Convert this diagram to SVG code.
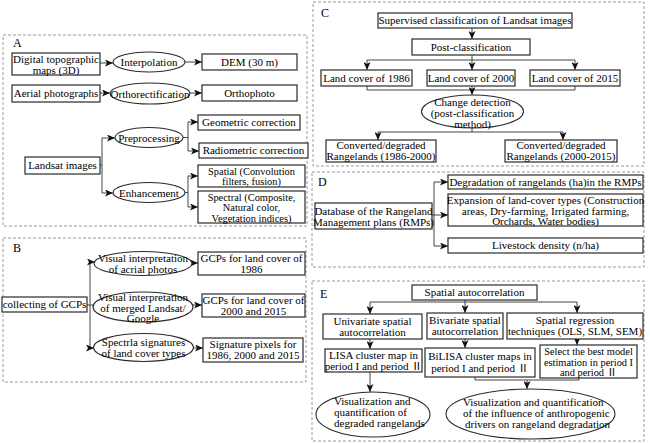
<svg xmlns="http://www.w3.org/2000/svg" width="650" height="443" viewBox="0 0 650 443">
<defs>
<marker id="ah" markerWidth="8" markerHeight="7" refX="8" refY="3.5" orient="auto" markerUnits="userSpaceOnUse">
<path d="M0,0 L8,3.5 L0,7 L2,3.5 z" fill="#111"/>
</marker>
<style>
.panel{fill:none;stroke:#9a9a9a;stroke-width:1;stroke-dasharray:3 2}
.box{fill:#fff;stroke:#2a2a2a;stroke-width:1.2}
.ell{fill:#fff;stroke:#2a2a2a;stroke-width:1.1}
text{font-family:"Liberation Serif","Noto Sans CJK SC",serif;font-size:11px;fill:#000}
.c{text-anchor:middle}
.s{font-size:10.4px}
.lbl{font-size:12px}
.ln{fill:none;stroke:#444;stroke-width:1}
.ar{fill:none;stroke:#444;stroke-width:1;marker-end:url(#ah)}
</style>
</defs>
<rect width="650" height="443" fill="#fff"/>

<g id="panels">
<rect class="panel" x="3" y="35" width="304" height="191"/>
<rect class="panel" x="3" y="238" width="303" height="144"/>
<rect class="panel" x="313" y="2" width="331" height="164"/>
<rect class="panel" x="312" y="172" width="332" height="95"/>
<rect class="panel" x="312" y="281" width="332" height="160"/>
<text class="lbl" x="13" y="47">A</text>
<text class="lbl" x="13" y="252">B</text>
<text class="lbl" x="321" y="17">C</text>
<text class="lbl" x="318" y="186">D</text>
<text class="lbl" x="320" y="298">E</text>
</g>

<g id="connectors">
<!-- A -->
<line class="ar" x1="100" y1="63" x2="113" y2="63"/>
<line class="ar" x1="185" y1="62" x2="202" y2="62"/>
<line class="ar" x1="100" y1="93" x2="110" y2="93"/>
<line class="ar" x1="190" y1="93" x2="202" y2="93"/>
<polyline class="ln" points="100,165 102,165"/>
<line class="ln" x1="102" y1="138" x2="102" y2="193"/>
<line class="ar" x1="102" y1="138" x2="115" y2="138"/>
<line class="ar" x1="102" y1="193" x2="113" y2="193"/>
<line class="ln" x1="183" y1="137.5" x2="188" y2="137.5"/>
<line class="ln" x1="188" y1="122" x2="188" y2="151"/>
<line class="ar" x1="188" y1="122" x2="198" y2="122"/>
<line class="ar" x1="188" y1="151" x2="199" y2="151"/>
<line class="ln" x1="185" y1="192.5" x2="188" y2="192.5"/>
<line class="ln" x1="188" y1="176" x2="188" y2="207"/>
<line class="ar" x1="188" y1="176" x2="198" y2="176"/>
<line class="ar" x1="188" y1="207" x2="198" y2="207"/>
<!-- B -->
<line class="ln" x1="87" y1="305" x2="93" y2="305"/>
<line class="ln" x1="90" y1="262" x2="90" y2="348"/>
<line class="ar" x1="90" y1="262" x2="95" y2="262"/>
<line class="ar" x1="90" y1="348" x2="94" y2="348"/>
<line class="ar" x1="192" y1="263" x2="198" y2="263"/>
<line class="ar" x1="193" y1="305" x2="202" y2="305"/>
<line class="ar" x1="193" y1="348" x2="203" y2="348"/>
<!-- C -->
<line class="ar" x1="472" y1="28" x2="472" y2="39"/>
<line class="ln" x1="472" y1="55" x2="472" y2="60"/>
<line class="ln" x1="367" y1="60" x2="575" y2="60"/>
<line class="ar" x1="367" y1="60" x2="367" y2="70"/>
<line class="ar" x1="472" y1="60" x2="472" y2="70"/>
<line class="ar" x1="575" y1="60" x2="575" y2="70"/>
<line class="ln" x1="367" y1="86" x2="367" y2="90"/>
<line class="ln" x1="575" y1="86" x2="575" y2="90"/>
<line class="ln" x1="367" y1="90" x2="575" y2="90"/>
<line class="ar" x1="472" y1="86" x2="472" y2="95"/>
<line class="ln" x1="472" y1="128" x2="472" y2="132"/>
<line class="ln" x1="378" y1="132" x2="563" y2="132"/>
<line class="ar" x1="378" y1="132" x2="378" y2="140"/>
<line class="ar" x1="563" y1="132" x2="563" y2="140"/>
<!-- D -->
<line class="ln" x1="434" y1="182" x2="434" y2="246"/>
<line class="ar" x1="434" y1="182" x2="448" y2="182"/>
<line class="ar" x1="432" y1="215" x2="448" y2="215"/>
<line class="ar" x1="434" y1="246" x2="448" y2="246"/>
<!-- E -->
<line class="ln" x1="370" y1="302" x2="577" y2="302"/>
<line class="ar" x1="370" y1="302" x2="370" y2="314"/>
<line class="ar" x1="465" y1="300" x2="465" y2="313"/>
<line class="ar" x1="577" y1="302" x2="577" y2="313"/>
<line class="ar" x1="370" y1="339" x2="370" y2="349"/>
<line class="ar" x1="465" y1="339" x2="465" y2="348"/>
<line class="ar" x1="577" y1="339" x2="577" y2="345"/>
<line class="ar" x1="370" y1="372" x2="370" y2="392"/>
<line class="ln" x1="475" y1="377" x2="475" y2="380"/>
<line class="ln" x1="579" y1="378" x2="579" y2="380"/>
<line class="ln" x1="475" y1="380" x2="579" y2="380"/>
<line class="ar" x1="527" y1="380" x2="527" y2="389"/>
</g>

<g id="topo"><rect class="box" x="12" y="53" width="88" height="22"/><text class="c" x="56" y="63">Digital topographic</text><text class="c" x="56" y="73.5">maps (3D)</text></g>
<g id="interp"><ellipse class="ell" cx="149" cy="62" rx="36" ry="10"/><text class="c" x="149" y="66">Interpolation</text></g>
<g id="dem"><rect class="box" x="202" y="54" width="95" height="16"/><text class="c" x="249.5" y="66">DEM (30 m)</text></g>
<g id="aerial"><rect class="box" x="12" y="85" width="88" height="17"/><text class="c" x="56" y="97">Aerial photographs</text></g>
<g id="ortho"><ellipse class="ell" cx="150" cy="93.5" rx="40" ry="10.5"/><text class="c" x="150" y="97.5">Orthorectification</text></g>
<g id="orthophoto"><rect class="box" x="202" y="85" width="95" height="16"/><text class="c" x="249.5" y="97">Orthophoto</text></g>
<g id="geom"><rect class="box" x="198" y="115" width="102" height="15"/><text class="c" x="249" y="126">Geometric correction</text></g>
<g id="prep"><ellipse class="ell" cx="149" cy="137.5" rx="34" ry="10"/><text class="c" x="149" y="141.5">Preprocessing</text></g>
<g id="radio"><rect class="box" x="199" y="143" width="109" height="15"/><text class="c" x="253.5" y="154">Radiometric correction</text></g>
<g id="landsat"><rect class="box" x="25" y="157" width="75" height="17"/><text class="c" x="62.5" y="169">Landsat images</text></g>
<g id="enh"><ellipse class="ell" cx="149" cy="192.5" rx="36" ry="10"/><text class="c" x="149" y="196.5">Enhancement</text></g>
<g id="spatial"><rect class="box" x="198" y="165" width="107" height="22"/><text class="c s" x="251.5" y="174.5">Spatial (Convolution</text><text class="c s" x="251.5" y="185">filters, fusion)</text></g>
<g id="spectral"><rect class="box" x="198" y="191" width="107" height="32"/><text class="c s" x="251.5" y="200.5">Spectral (Composite,</text><text class="c s" x="251.5" y="211">Natural color,</text><text class="c s" x="251.5" y="221.5">Vegetation indices)</text></g>

<g id="gcps"><rect class="box" x="2" y="297" width="85" height="15"/><text class="c" x="44.5" y="308">collecting of GCPs</text></g>
<g id="vis1"><ellipse class="ell" cx="143" cy="263.5" rx="49" ry="12"/><text class="c" x="143" y="261.5">Visual interpretation</text><text class="c" x="143" y="272.5">of acrial photos</text></g>
<g id="vis2"><ellipse class="ell" cx="143" cy="307" rx="50" ry="15"/><text class="c" x="143" y="300.5">Visual interpretation</text><text class="c" x="143" y="311.5">of merged Landsat/</text><text class="c" x="143" y="322">Google</text></g>
<g id="spec"><ellipse class="ell" cx="143.5" cy="347.5" rx="50" ry="14"/><text class="c" x="143.5" y="345.5">Spectrla signatures</text><text class="c" x="143.5" y="356.5">of land cover types</text></g>
<g id="g1986"><rect class="box" x="198" y="252" width="107" height="23"/><text class="c" x="251.5" y="262">GCPs for land cover of</text><text class="c" x="251.5" y="273">1986</text></g>
<g id="g2000"><rect class="box" x="202" y="294" width="103" height="23"/><text class="c" x="253.5" y="304">GCPs for land cover of</text><text class="c" x="253.5" y="315">2000 and 2015</text></g>
<g id="sigpix"><rect class="box" x="203" y="338" width="100" height="24"/><text class="c" x="253" y="348">Signature pixels for</text><text class="c" x="253" y="359">1986, 2000 and 2015</text></g>

<g id="sup"><rect class="box" x="378" y="13" width="194" height="15"/><text class="c" x="475" y="24">Supervised classification of Landsat images</text></g>
<g id="post"><rect class="box" x="412" y="39" width="118" height="16"/><text class="c" x="471" y="51">Post-classification</text></g>
<g id="lc1986"><rect class="box" x="321" y="70" width="91" height="16"/><text class="c" x="366.5" y="82">Land cover of 1986</text></g>
<g id="lc2000"><rect class="box" x="427" y="70" width="88" height="16"/><text class="c" x="471" y="82">Land cover of 2000</text></g>
<g id="lc2015"><rect class="box" x="530" y="70" width="90" height="16"/><text class="c" x="575" y="82">Land cover of 2015</text></g>
<g id="change"><ellipse class="ell" cx="472.5" cy="111.5" rx="51" ry="16.5"/><text class="c" x="472.5" y="106">Change detection</text><text class="c" x="472.5" y="117">(post-classification</text><text class="c" x="472.5" y="127.5">method)</text></g>
<g id="conv1"><rect class="box" x="326" y="140" width="110" height="22"/><text class="c" x="381" y="149">Converted/degraded</text><text class="c" x="381" y="159.5">Rangelands (1986-2000)</text></g>
<g id="conv2"><rect class="box" x="505" y="140" width="112" height="22"/><text class="c" x="561" y="149">Converted/degraded</text><text class="c" x="561" y="159.5">Rangelands (2000-2015)</text></g>

<g id="db"><rect class="box" x="315" y="203" width="117" height="26"/><text class="c" x="373.5" y="215">Database of the Rangeland</text><text class="c" x="373.5" y="226">Management plans (RMPs)</text></g>
<g id="degr"><rect class="box" x="448" y="175" width="195" height="14"/><text class="c" x="545.5" y="186">Degradation of rangelands (ha)in the RMPs</text></g>
<g id="expan"><rect class="box" x="448" y="194" width="195" height="32"/><text class="c" x="545.5" y="204">Expansion of land-cover types (Construction</text><text class="c" x="545.5" y="214.5">areas, Dry-farming, Irrigated farming,</text><text class="c" x="545.5" y="225">Orchards, Water bodies)</text></g>
<g id="live"><rect class="box" x="448" y="238" width="195" height="15"/><text class="c" x="545.5" y="249">Livestock density (n/ha)</text></g>

<g id="sa"><rect class="box" x="412" y="285" width="125" height="15"/><text class="c" x="474.5" y="296">Spatial autocorrelation</text></g>
<g id="uni"><rect class="box" x="323" y="314" width="99" height="25"/><text class="c" x="372.5" y="325">Univariate spatial</text><text class="c" x="372.5" y="336">autocorrelation</text></g>
<g id="biv"><rect class="box" x="427" y="313" width="76" height="26"/><text class="c" x="465" y="324">Bivariate spatial</text><text class="c" x="465" y="335">autocorrelation</text></g>
<g id="reg"><rect class="box" x="507" y="313" width="136" height="26"/><text class="c" x="575" y="323.5">Spatial regression</text><text class="c" x="575" y="335">techniques (OLS, SLM, SEM)</text></g>
<g id="lisa"><rect class="box" x="325" y="349" width="97" height="23"/><text class="c" x="373.5" y="359">LISA cluster map in</text><text class="c" x="373.5" y="370">period I and period  Ⅱ</text></g>
<g id="bilisa"><rect class="box" x="425" y="348" width="110" height="29"/><text class="c" x="480" y="360">BiLISA cluster maps in</text><text class="c" x="480" y="371.5">period I and period  Ⅱ</text></g>
<g id="select"><rect class="box" x="540" y="345" width="97" height="33"/><text class="c s" x="588.5" y="355">Select the best model</text><text class="c s" x="588.5" y="365.5">estimation in period I</text><text class="c s" x="588.5" y="376">and period  Ⅱ</text></g>
<g id="vis3"><ellipse class="ell" cx="373" cy="414.5" rx="57" ry="22.5"/><text x="334" y="404.5">Visualization and</text><text x="334" y="415.5">quantification of</text><text x="334" y="426.5">degraded rangelands</text></g>
<g id="vis4"><ellipse class="ell" cx="530.5" cy="414" rx="84.5" ry="25"/><text x="463" y="405.5">Visualization and quantification</text><text x="463" y="416.5">of the influence of anthropogenic</text><text x="465" y="427.5">drivers on rangeland degradation</text></g>
</svg>
